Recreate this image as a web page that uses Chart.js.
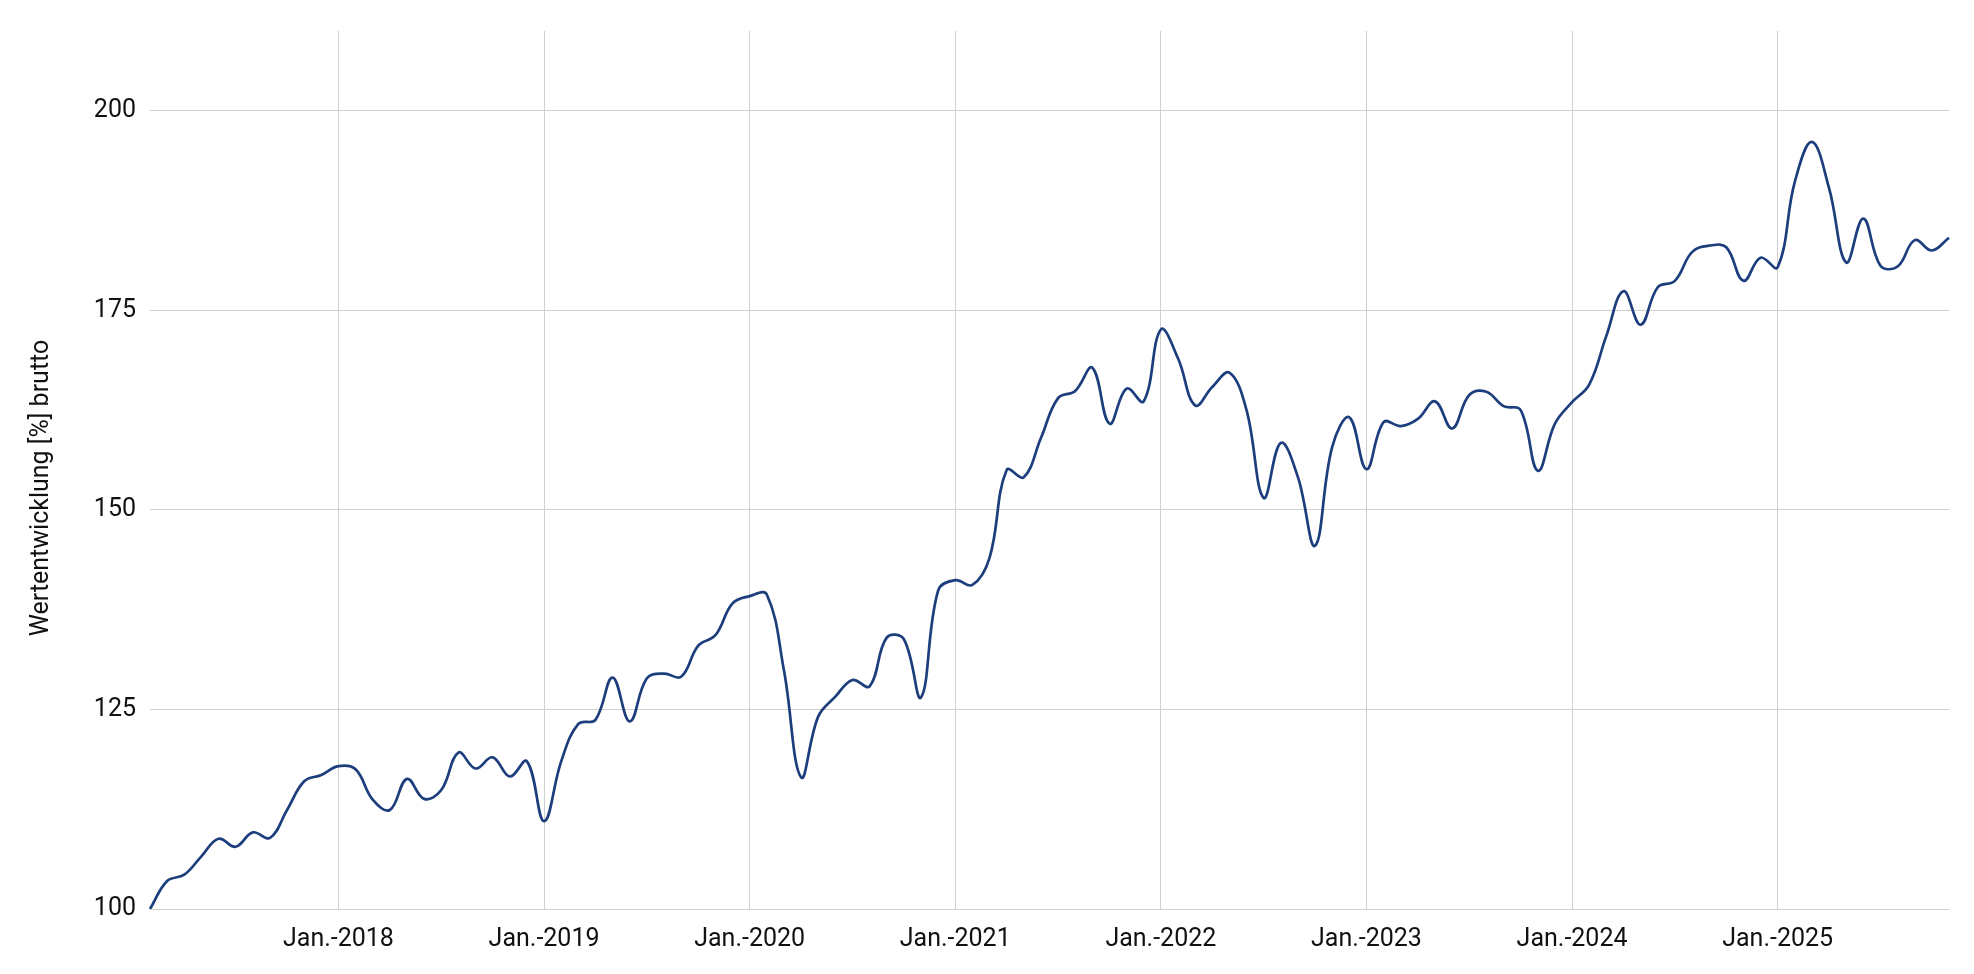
<!DOCTYPE html>
<html lang="de">
<head>
<meta charset="utf-8">
<title>Wertentwicklung</title>
<script src="https://cdn.jsdelivr.net/npm/chart.js@4.4.1/dist/chart.umd.min.js"></script>
<style>
  html, body { margin: 0; padding: 0; background: #fff; }
  #wrap { width: 1974px; height: 974px; position: relative; }
</style>
</head>
<body>
<div id="wrap"><canvas id="perfChart"></canvas></div>
<script>
// monthly values, series starts Feb 2017
const startYear = 2017;
const startMonth = 2;
const values2017 = [100.0, 103.5, 104.3, 106.6, 108.8, 107.8, 109.6, 108.9, 112.4, 116.0, 116.8];
const values2018 = [117.9, 117.5, 113.7, 112.4, 116.3, 113.8, 114.9, 119.6, 117.6, 119.0, 116.6, 118.5];
const values2019 = [111.0, 118.5, 123.2, 123.7, 129.0, 123.5, 128.9, 129.5, 129.1, 133.0, 134.3, 138.3];
const values2020 = [139.2, 139.4, 129.9, 116.5, 124.1, 126.6, 128.7, 127.9, 134.0, 133.8, 126.5, 139.9];
const values2021 = [141.2, 140.6, 144.0, 155.0, 154.1, 159.0, 164.0, 164.9, 167.8, 160.8, 165.2, 163.6];
const values2022 = [172.6, 169.0, 163.1, 165.4, 167.2, 162.5, 151.5, 158.4, 154.1, 145.5, 157.9, 161.6];
const values2023 = [155.1, 161.0, 160.5, 161.4, 163.6, 160.2, 164.4, 164.8, 163.0, 162.5, 154.9, 160.8];
const values2024 = [163.5, 165.7, 171.8, 177.4, 173.2, 177.9, 178.7, 182.3, 183.1, 182.9, 178.7, 181.6];
const values2025 = [180.4, 191.1, 196.1, 190.3, 181.0, 186.5, 180.6, 180.5, 183.8, 182.5, 184.1];

const yTicks = [100, 125, 150, 175, 200];
const yMin = 100;
const yMax = 210;
const yTitle = 'Wertentwicklung [%] brutto';

const values = [].concat(values2017, values2018, values2019, values2020, values2021,
  values2022, values2023, values2024, values2025);

const months = values.map((v, i) => {
  const m = startMonth - 1 + i;
  const y = startYear + Math.floor(m / 12);
  return { year: y, month: (m % 12) + 1 };
});
const labels = months.map(d => `${d.year}-${String(d.month).padStart(2, '0')}`);

const textColor = '#111111';
const gridColor = '#cfcfcf';
const fontSize = 25;

// axis title sits a bit below the plot centre in the original, so draw it by hand
const yTitlePlugin = {
  id: 'yTitle',
  afterDraw(chart) {
    const ctx = chart.ctx;
    ctx.save();
    ctx.translate(42, chart.height / 2 + 1);
    ctx.rotate(-Math.PI / 2);
    ctx.font = `${fontSize}px Roboto`;
    ctx.fillStyle = textColor;
    ctx.textAlign = 'center';
    ctx.textBaseline = 'middle';
    ctx.fillText(yTitle, 0, 0);
    ctx.restore();
  }
};

new Chart(document.getElementById('perfChart').getContext('2d'), {
  type: 'line',
  data: {
    labels: labels,
    datasets: [{
      label: 'Wertentwicklung',
      data: values,
      borderColor: '#1d3e7c',
      borderWidth: 2.7,
      pointRadius: 0,
      tension: 0.4,
      fill: false
    }]
  },
  options: {
    responsive: true,
    maintainAspectRatio: false,
    animation: false,
    layout: { padding: { top: 31, right: 25, left: 0, bottom: 0 } },
    plugins: {
      legend: { display: false },
      tooltip: { enabled: false }
    },
    scales: {
      x: {
        type: 'category',
        offset: false,
        border: { display: false },
        grid: { color: gridColor, lineWidth: 1, drawTicks: false },
        ticks: {
          autoSkip: false,
          maxRotation: 0,
          minRotation: 0,
          padding: 16,
          color: textColor,
          font: { family: 'Roboto', size: fontSize },
          callback: function (val, idx) {
            const d = months[idx];
            return d.month === 1 ? `Jan.-${d.year}` : null;
          }
        },
        afterFit: function (scale) { scale.height = 65; }
      },
      y: {
        min: yMin,
        max: yMax,
        border: { display: false },
        grid: { color: gridColor, lineWidth: 1, drawTicks: false },
        afterBuildTicks: function (scale) {
          scale.ticks = yTicks.map(v => ({ value: v }));
        },
        ticks: {
          padding: 14,
          color: textColor,
          font: { family: 'Roboto', size: fontSize }
        },
        afterFit: function (scale) { scale.width = 150; }
      }
    }
  },
  plugins: [yTitlePlugin]
});
</script>
</body>
</html>
